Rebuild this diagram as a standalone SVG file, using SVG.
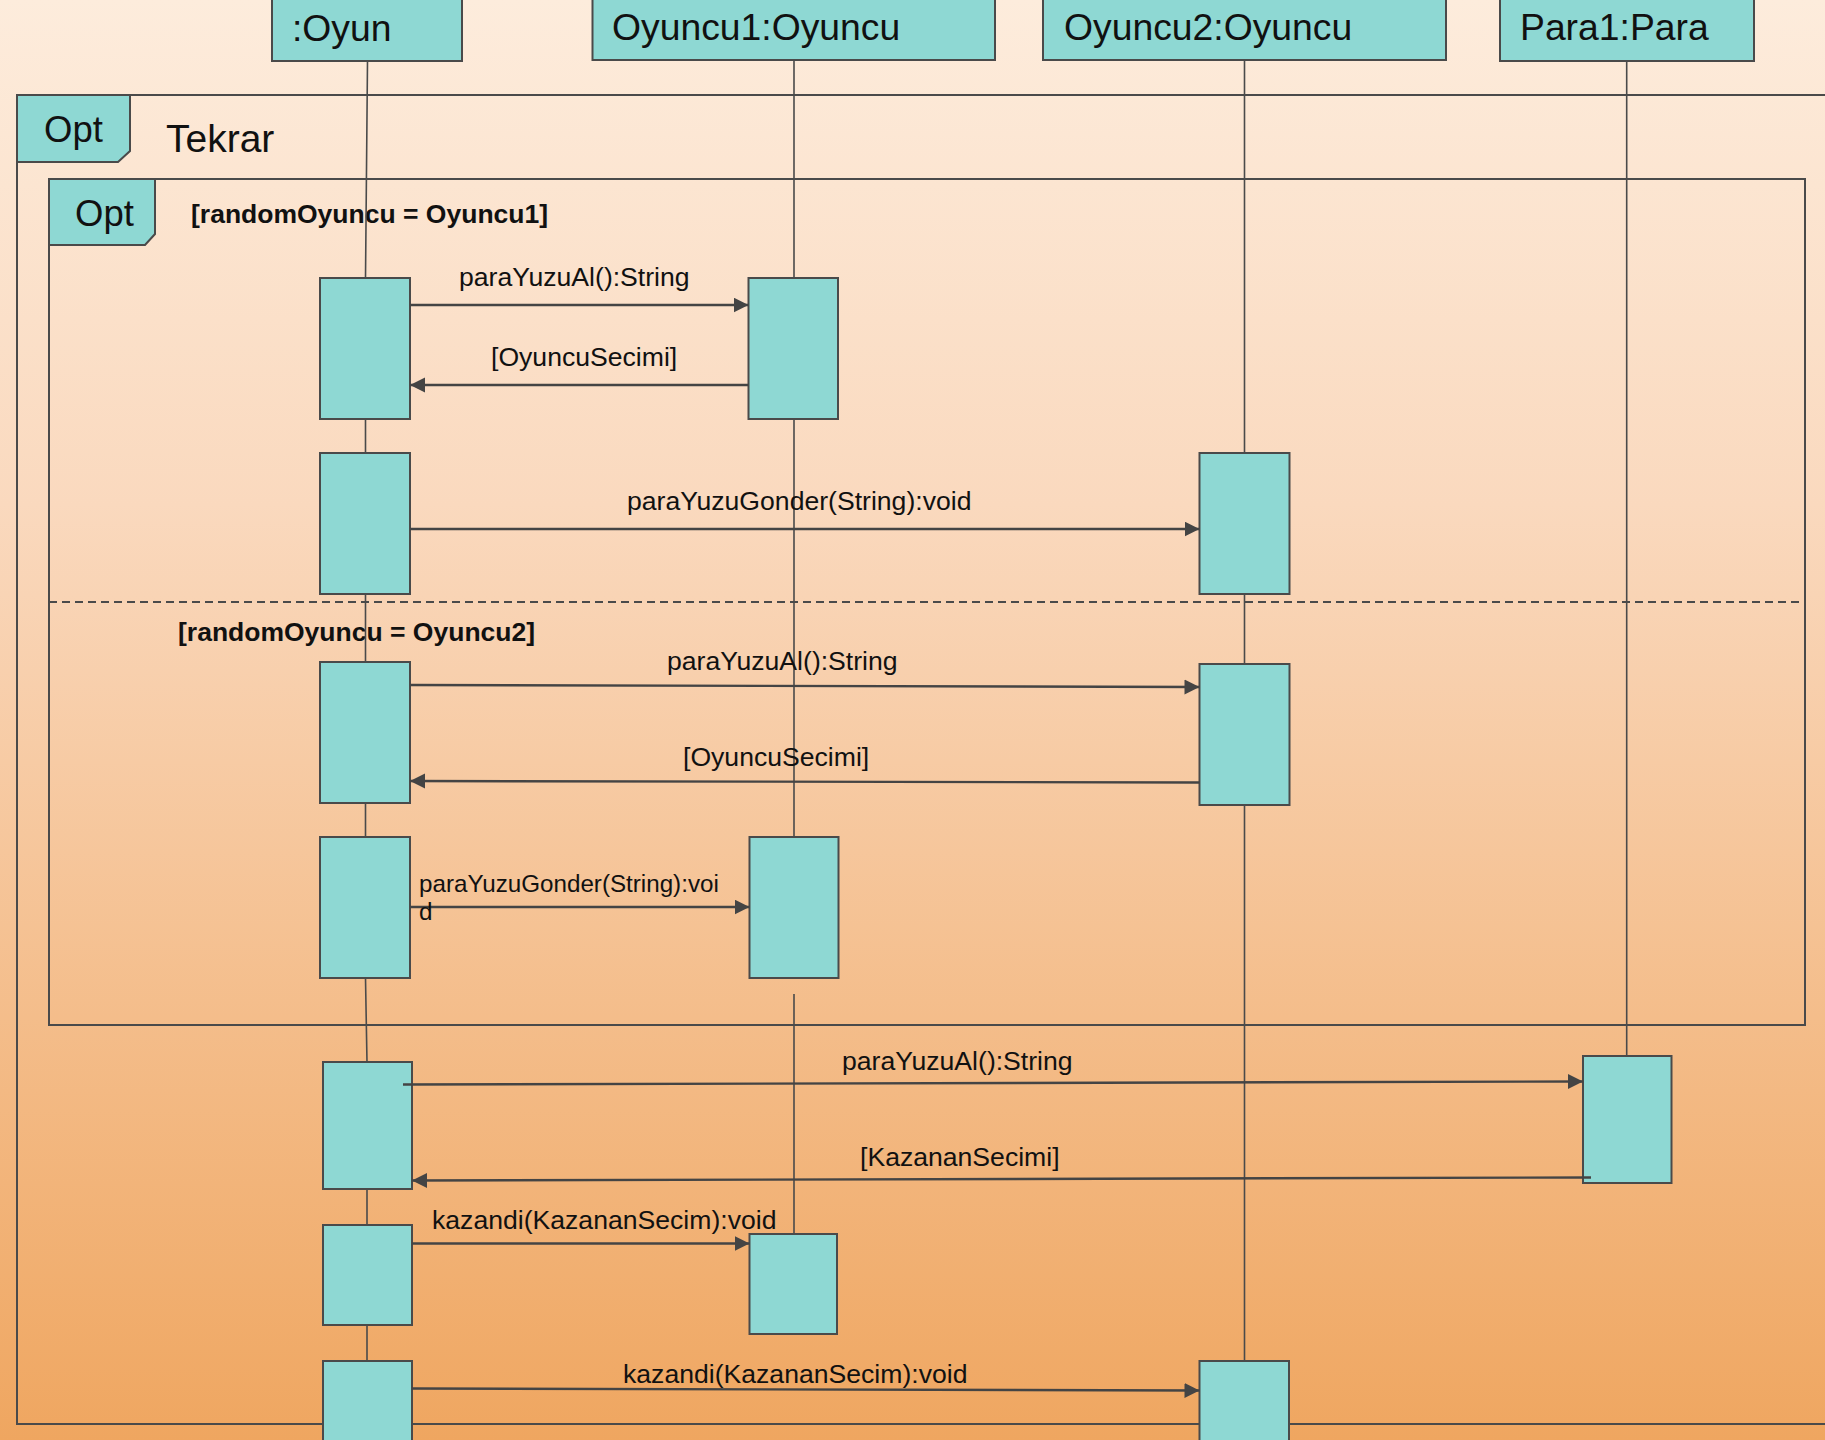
<svg xmlns="http://www.w3.org/2000/svg" width="1825" height="1440" viewBox="0 0 1825 1440">
<defs>
<linearGradient id="bg" x1="0" y1="0" x2="0" y2="1">
<stop offset="0" stop-color="#FDECDC"/>
<stop offset="0.35" stop-color="#FAD9BE"/>
<stop offset="1" stop-color="#EFA660"/>
</linearGradient>
<marker id="ah" markerUnits="userSpaceOnUse" markerWidth="16" markerHeight="16" refX="15" refY="7.5" orient="auto">
<path d="M0,0 L15,7.5 L0,15 Z" fill="#444"/>
</marker>
<style>
.head{fill:#8ED8D3;stroke:#4a4a4a;stroke-width:2}
.act{fill:#8ED8D3;stroke:#4a4a4a;stroke-width:2}
.ll{stroke:#4a4a4a;stroke-width:1.6;fill:none}
.frame{fill:none;stroke:#4a4a4a;stroke-width:2}
.tab{fill:#8ED8D3;stroke:#4a4a4a;stroke-width:2}
.msg{stroke:#444;stroke-width:2.4;fill:none;marker-end:url(#ah)}
.ht{font-family:"Liberation Sans",Arial,sans-serif;font-size:37.3px;fill:#111}
.lbl{font-family:"Liberation Sans",Arial,sans-serif;font-size:26.6px;fill:#111}
.grd{font-family:"Liberation Sans",Arial,sans-serif;font-size:26.5px;font-weight:bold;fill:#111}
</style>
</defs>
<rect x="0" y="0" width="1825" height="1440" fill="url(#bg)"/>

<g id="frame-tekrar">
<path class="frame" d="M1830,95 L17,95 L17,1424 L1830,1424"/>
<path class="tab" d="M17,95 L130,95 L130,151 L118,162 L17,162 Z"/>
<text class="ht" x="44" y="142" style="font-size:36.5px">Opt</text>
<text class="ht" x="166" y="152" style="font-size:39px">Tekrar</text>
</g>

<g id="frame-opt">
<rect class="frame" x="49" y="179" width="1756" height="846"/>
<path class="tab" d="M49,179 L155,179 L155,234 L145,245 L49,245 Z"/>
<text class="ht" x="75" y="226" style="font-size:36.5px">Opt</text>
<text class="grd" x="191" y="223">[randomOyuncu = Oyuncu1]</text>
<line x1="49" y1="602" x2="1805" y2="602" stroke="#4a4a4a" stroke-width="2" stroke-dasharray="8 5"/>
<text class="grd" x="178" y="641">[randomOyuncu = Oyuncu2]</text>
</g>

<g id="lifelines">
<path class="ll" d="M367.5,61 L365.5,278 M365.5,419 L365.5,453 M365.5,594 L365.5,662 M365.5,803 L365.5,837 M365.5,978 L367,1062 M367,1189 L367,1225 M367,1325 L367,1361"/>
<path class="ll" d="M794,60 L794,278 M794,419 L794,837 M794,994 L794,1234"/>
<path class="ll" d="M1244.5,60 L1244.5,453 M1244.5,594 L1244.5,664 M1244.5,805 L1244.5,1361"/>
<path class="ll" d="M1626.7,61 L1626.7,1056"/>
</g>

<g id="node-oyun">
<rect class="head" x="272" y="-3" width="190" height="64"/>
<text class="ht" x="292" y="41">:Oyun</text>
</g>
<g id="node-oyuncu1">
<rect class="head" x="592.5" y="-3" width="402.5" height="63"/>
<text class="ht" x="612" y="40">Oyuncu1:Oyuncu</text>
</g>
<g id="node-oyuncu2">
<rect class="head" x="1043" y="-3" width="403" height="63"/>
<text class="ht" x="1064" y="40">Oyuncu2:Oyuncu</text>
</g>
<g id="node-para1">
<rect class="head" x="1500" y="-3" width="254" height="64"/>
<text class="ht" x="1520" y="40">Para1:Para</text>
</g>

<g id="activations">
<rect class="act" x="320" y="278" width="90" height="141"/>
<rect class="act" x="748.5" y="278" width="89.5" height="141"/>
<rect class="act" x="320" y="453" width="90" height="141"/>
<rect class="act" x="1199.5" y="453" width="90" height="141"/>
<rect class="act" x="320" y="662" width="90" height="141"/>
<rect class="act" x="1199.5" y="664" width="90" height="141"/>
<rect class="act" x="320" y="837" width="90" height="141"/>
<rect class="act" x="749.5" y="837" width="89" height="141"/>
<rect class="act" x="323" y="1062" width="89" height="127"/>
<rect class="act" x="1583" y="1056" width="88.5" height="127"/>
<rect class="act" x="323" y="1225" width="89" height="100"/>
<rect class="act" x="749.5" y="1234" width="87.5" height="100"/>
<rect class="act" x="323" y="1361" width="89" height="90"/>
<rect class="act" x="1199.5" y="1361" width="89.5" height="90"/>
</g>

<g id="connectors">
<line class="msg" x1="410" y1="305" x2="748.5" y2="305"/>
<line class="msg" x1="748.5" y1="385" x2="410" y2="385"/>
<line class="msg" x1="410" y1="529" x2="1199.5" y2="529"/>
<line class="msg" x1="410" y1="685" x2="1199.5" y2="687"/>
<line class="msg" x1="1199.5" y1="782.5" x2="410" y2="781"/>
<line class="msg" x1="410" y1="907" x2="749.5" y2="907"/>
<line class="msg" x1="403" y1="1084.5" x2="1583" y2="1081.5"/>
<line class="msg" x1="1591" y1="1177.5" x2="412" y2="1180.5"/>
<line class="msg" x1="412" y1="1243.5" x2="749.5" y2="1243.5"/>
<line class="msg" x1="412" y1="1388.5" x2="1199.5" y2="1390.5"/>
<text class="lbl" x="459" y="286">paraYuzuAl():String</text>
<text class="lbl" x="491" y="366">[OyuncuSecimi]</text>
<text class="lbl" x="627" y="510">paraYuzuGonder(String):void</text>
<text class="lbl" x="667" y="670">paraYuzuAl():String</text>
<text class="lbl" x="683" y="766">[OyuncuSecimi]</text>
<text class="lbl" x="419" y="892" style="font-size:24.2px">paraYuzuGonder(String):voi</text>
<text class="lbl" x="419" y="920" style="font-size:24.2px">d</text>
<text class="lbl" x="842" y="1070">paraYuzuAl():String</text>
<text class="lbl" x="860" y="1166">[KazananSecimi]</text>
<text class="lbl" x="432" y="1229">kazandi(KazananSecim):void</text>
<text class="lbl" x="623" y="1383">kazandi(KazananSecim):void</text>
</g>
</svg>
